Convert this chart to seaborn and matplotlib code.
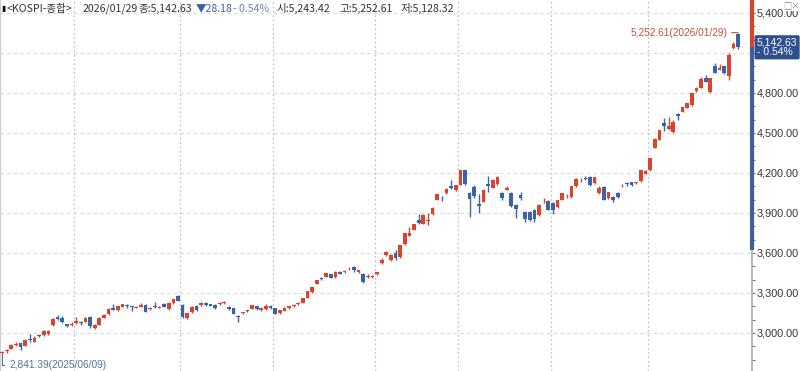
import numpy as np
import pandas as pd
import matplotlib
matplotlib.use("Agg")
import matplotlib.pyplot as plt
import matplotlib.transforms as mtransforms
from matplotlib.ticker import MultipleLocator, FuncFormatter
import seaborn as sns

# ---------------- data ----------------
trading_days = {
    "2025-06": [9, 10, 11, 12, 13, 16, 17, 18, 19, 20, 23, 24, 25, 26, 27, 30],
    "2025-07": [1, 2, 3, 4, 7, 8, 9, 10, 11, 14, 15, 16, 17, 18, 21, 22, 23, 24, 25, 28, 29, 30, 31],
    "2025-08": [1, 4, 5, 6, 7, 8, 11, 12, 13, 14, 18, 19, 20, 21, 22, 25, 26, 27, 28, 29],
    "2025-09": [1, 2, 3, 4, 5, 8, 9, 10, 11, 12, 15, 16, 17, 18, 19, 22, 23, 24, 25, 26, 29, 30],
    "2025-10": [1, 2, 10, 13, 14, 15, 16, 17, 20, 21, 22, 23, 24, 27, 28, 29, 30, 31],
    "2025-11": [3, 4, 5, 6, 7, 10, 11, 12, 13, 14, 17, 18, 19, 20, 21, 24, 25, 26, 27, 28],
    "2025-12": [1, 2, 3, 4, 5, 8, 9, 10, 11, 12, 15, 16, 17, 18, 19, 22, 23, 24, 26, 29, 30],
    "2026-01": [2, 5, 6, 7, 8, 9, 12, 13, 14, 15, 16, 19, 20, 21, 22, 23, 26, 27, 28, 29],
}

open_ = [
    2848, 2866, 2880, 2912, 2925, 2905, 2955, 2932, 2982, 2983, 2990, 3062, 3118, 3113, 3067, 3060,
    3078, 3082, 3085, 3118, 3038, 3062, 3114, 3142, 3188, 3172, 3198, 3212, 3200, 3190, 3198, 3210, 3180, 3205, 3190, 3217, 3182, 3226, 3275,
    3208, 3115, 3155, 3200, 3210, 3228, 3215, 3212, 3218, 3225, 3195, 3185, 3125, 3150, 3168, 3180, 3200, 3170, 3180, 3205,
    3185, 3150, 3168, 3185, 3205, 3218, 3228, 3265, 3310, 3370, 3410, 3420, 3440, 3420, 3460, 3455, 3485, 3495, 3455, 3445, 3420, 3420,
    3440, 3525, 3585, 3550, 3600, 3570, 3665, 3730, 3775, 3850, 3818, 3840, 3893, 3998, 4012, 4052, 4105, 4070,
    4112, 4222, 4050, 4095, 3965, 3985, 4120, 4090, 4115, 4050, 4075, 4050, 3960, 4035, 3908, 3905, 3925, 3885, 3995, 3990,
    3975, 3945, 4000, 4025, 4020, 4100, 4145, 4165, 4170, 4125, 4050, 4095, 4010, 4020, 4050, 4100, 4120, 4130, 4125, 4140, 4195,
    4222, 4390, 4450, 4575, 4530, 4505, 4640, 4660, 4690, 4710, 4815, 4838, 4915, 4810, 5000, 4975, 5000, 4925, 5140, 5243.42,
]
high = [
    2866, 2878, 2921, 2931, 2928, 2950, 2990, 2975, 2992, 3022, 3024, 3110, 3133, 3125, 3070, 3080,
    3120, 3092, 3120, 3125, 3065, 3118, 3140, 3185, 3215, 3205, 3220, 3218, 3205, 3205, 3222, 3218, 3195, 3232, 3205, 3225, 3232, 3258, 3282,
    3215, 3150, 3200, 3210, 3230, 3235, 3220, 3215, 3235, 3240, 3200, 3190, 3132, 3160, 3175, 3212, 3202, 3192, 3215, 3210,
    3188, 3175, 3192, 3205, 3215, 3230, 3262, 3315, 3345, 3396, 3420, 3450, 3445, 3462, 3465, 3470, 3498, 3500, 3475, 3448, 3440, 3435,
    3460, 3562, 3617, 3590, 3620, 3660, 3750, 3795, 3820, 3895, 3890, 3900, 3945, 4045, 4030, 4085, 4147, 4110,
    4226, 4226, 4060, 4110, 4040, 4080, 4180, 4155, 4175, 4060, 4100, 4055, 3965, 4057, 3915, 3912, 3930, 3965, 4010, 3995,
    3980, 4000, 4052, 4040, 4105, 4160, 4160, 4175, 4180, 4170, 4100, 4100, 4060, 4030, 4060, 4115, 4130, 4135, 4135, 4222, 4220,
    4315, 4460, 4525, 4610, 4620, 4597, 4650, 4695, 4725, 4800, 4845, 4920, 4935, 4912, 5025, 5020, 5005, 5100, 5185, 5252.61,
]
low = [
    2841.39, 2853, 2878, 2900, 2870, 2900, 2935, 2930, 2970, 2978, 2985, 3055, 3095, 3075, 3045, 3050,
    3070, 3060, 3080, 3040, 3030, 3058, 3110, 3138, 3170, 3168, 3195, 3190, 3165, 3185, 3195, 3155, 3170, 3188, 3185, 3192, 3175, 3220, 3238,
    3115, 3108, 3150, 3165, 3200, 3205, 3200, 3180, 3210, 3215, 3170, 3140, 3082, 3140, 3160, 3178, 3175, 3165, 3175, 3180,
    3140, 3145, 3165, 3180, 3195, 3210, 3225, 3262, 3300, 3365, 3395, 3418, 3410, 3415, 3440, 3450, 3475, 3460, 3450, 3375, 3415, 3415,
    3435, 3520, 3580, 3540, 3545, 3565, 3660, 3725, 3770, 3815, 3815, 3810, 3888, 3995, 3990, 4045, 4080, 4065,
    4108, 4110, 3867, 4015, 3900, 3980, 4060, 4085, 4110, 3995, 4070, 3945, 3862, 4000, 3835, 3840, 3830, 3880, 3975, 3920,
    3895, 3940, 3995, 4010, 4015, 4095, 4135, 4150, 4100, 4120, 4045, 3995, 4005, 3985, 4015, 4095, 4105, 4105, 4120, 4135, 4190,
    4218, 4385, 4445, 4515, 4520, 4500, 4600, 4655, 4685, 4705, 4810, 4835, 4880, 4800, 4950, 4970, 4945, 4895, 5130, 5128.32,
]
close = [
    2856, 2871, 2907, 2920, 2894, 2946, 2950, 2962, 2977, 3015, 3014, 3103, 3108, 3079, 3055, 3071,
    3089, 3076, 3116, 3054, 3059, 3115, 3133, 3183, 3175, 3202, 3215, 3200, 3192, 3198, 3210, 3160, 3184, 3195, 3198, 3198, 3225, 3254, 3242,
    3120, 3147, 3198, 3170, 3227, 3210, 3205, 3185, 3222, 3225, 3177, 3142, 3122, 3152, 3166, 3210, 3180, 3187, 3205, 3186,
    3145, 3172, 3187, 3200, 3206, 3220, 3260, 3314, 3344, 3395, 3407, 3449, 3413, 3461, 3445, 3468, 3486, 3472, 3471, 3386, 3431, 3424,
    3455, 3549, 3610, 3584, 3561, 3657, 3748, 3748, 3814, 3823, 3883, 3848, 3941, 4042, 4010, 4081, 4086, 4107,
    4221, 4121, 4004, 4026, 3953, 4073, 4106, 4150, 4170, 4011, 4089, 3953, 3929, 4012, 3853, 3846, 3857, 3960, 3997, 3926,
    3920, 3997, 4050, 4028, 4100, 4154, 4150, 4155, 4110, 4167, 4090, 3999, 4056, 3994, 4020, 4105, 4117, 4108, 4129, 4220, 4214,
    4309, 4457, 4525, 4551, 4552, 4586, 4624, 4692, 4723, 4797, 4840, 4904, 4885, 4909, 4952, 4990, 4949, 5084, 5170.81, 5142.63,
]

prev_close = 5170.81
range_low = 3620          # lower end of the blue band on the price axis
y_major = 300
y_minor = 100

RED = "#d8442c"
BLUE = "#3b62a6"
NUMFONT = ["Liberation Sans", "DejaVu Sans"]

# ---------------- frame ----------------
dates = [pd.Timestamp(f"{m}-{d:02d}") for m, days in trading_days.items() for d in days]
df = pd.DataFrame({"date": dates, "open": open_, "high": high, "low": low, "close": close})
df["pos"] = np.arange(len(df))
df["up"] = df["close"] >= df["open"]
last_close = df["close"].iloc[-1]

sns.set_style("white")
plt.rcParams["font.family"] = ["Noto Sans CJK KR", "DejaVu Sans"]

fig = plt.figure(figsize=(8, 3.71), dpi=100)
ax = fig.add_axes([0.0, 0.0, 752 / 800, 1.0])

ax.set_xlim(-0.45, 162.0)
ax.set_ylim(2715, 5497.5)

# grid
for v in np.arange(2700, 5500, y_major):
    ax.axhline(v, color="#d9d9d9", lw=0.8, ls=(0, (3, 3)), zorder=0)
month_starts = df.groupby(df["date"].dt.to_period("M"))["pos"].min().values
for p in month_starts[1:]:
    ax.axvline(p - 0.5, color="#c4c4c4", lw=0.9, ls=(0, (1.5, 2)), zorder=0)

# candles
cols = np.where(df["up"], RED, BLUE)
ax.vlines(df["pos"], df["low"], df["high"], colors=cols, lw=1.0, zorder=2)
body_lo = np.minimum(df["open"], df["close"])
body_h = np.maximum((df["close"] - df["open"]).abs(), 6)
ax.bar(df["pos"], body_h, bottom=body_lo, width=0.8, color=cols, linewidth=0, zorder=3)

# axes styling
for s in ["top", "bottom"]:
    ax.spines[s].set_visible(False)
ax.spines["left"].set_color("#cfcfcf")
ax.spines["left"].set_linewidth(1.0)
ax.spines["right"].set_color("#a9a9a9")
ax.spines["right"].set_linewidth(1.2)
ax.set_xticks([])
ax.yaxis.tick_right()
ax.yaxis.set_major_locator(MultipleLocator(y_major))
ax.yaxis.set_minor_locator(MultipleLocator(y_minor))
# the label hidden behind the last-price tag is left blank
ax.yaxis.set_major_formatter(FuncFormatter(
    lambda v, p: "" if abs(v - last_close) < 120 else f"{v:,.2f}"))
ax.tick_params(axis="y", which="major", direction="out", length=2.5, width=0.8,
               color="#777777", pad=0.8, labelsize=7.8, labelcolor="#333333")
ax.tick_params(axis="y", which="minor", direction="out", length=2.0, width=0.8, color="#777777")
for lab in ax.get_yticklabels():
    lab.set_family(NUMFONT)

# coloured band on the price axis
btrans = mtransforms.blended_transform_factory(ax.transAxes, ax.transData)
ax.plot([1, 1], [last_close, ax.get_ylim()[1]], transform=btrans, color=RED, lw=3, clip_on=False, zorder=5,
        solid_capstyle="butt")
ax.plot([1, 1], [range_low, last_close], transform=btrans, color="#3f5f99", lw=3, clip_on=False, zorder=5,
        solid_capstyle="butt")

# last price tag
chg_pct = (last_close - prev_close) / prev_close * 100
ax.annotate(f"{last_close:,.2f}\n- {abs(chg_pct):.2f}%", xy=(1, last_close), xycoords=btrans,
            xytext=(3.5, 0), textcoords="offset points", ha="left", va="center",
            fontsize=7.5, color="white", linespacing=0.95, family=NUMFONT,
            bbox=dict(boxstyle="round,pad=0.22,rounding_size=0.15", fc="#2e4f8e", ec="none"),
            annotation_clip=False, zorder=10)

# high / low annotations
hi_i = int(df["high"].idxmax())
ax.annotate(f"{df['high'].iloc[hi_i]:,.2f}({df['date'].iloc[hi_i]:%Y/%m/%d})",
            xy=(df["pos"].iloc[hi_i], df["high"].iloc[hi_i]), xytext=(-8, 0), textcoords="offset points",
            ha="right", va="center", fontsize=7.3, color="#c0533c", family=NUMFONT,
            arrowprops=dict(arrowstyle="-", color="#c0533c", lw=0.8, shrinkA=1, shrinkB=0))
lo_i = int(df["low"].idxmin())
ax.annotate(f"{df['low'].iloc[lo_i]:,.2f}({df['date'].iloc[lo_i]:%Y/%m/%d})",
            xy=(df["pos"].iloc[lo_i], df["low"].iloc[lo_i]), xytext=(5, -8), textcoords="offset points",
            ha="left", va="center", fontsize=7.3, color="#55709a", family=NUMFONT,
            arrowprops=dict(arrowstyle="-", color="#55709a", lw=0.8, shrinkA=1, shrinkB=0,
                            connectionstyle="angle,angleA=0,angleB=90,rad=0"))

# header
hy = 1 - 8.5 / 371
fig.text(1.5 / 800, hy, "▮", fontsize=5.5, color="#111111", ha="left", va="center")
hdr = [
    (7, "<KOSPI-종합>", "#333333"),
    (83, "2026/01/29", "#333333"),
    (138, f"종:{last_close:,.2f}", "#333333"),
    (196, f"▼{prev_close - last_close:.2f}", "#3b5ea8"),
    (233, f"- {abs(chg_pct):.2f}%", "#6a84b0"),
    (277, f"시:{open_[-1]:,.2f}", "#333333"),
    (339, f"고:{high[-1]:,.2f}", "#333333"),
    (401, f"저:{low[-1]:,.2f}", "#333333"),
]
for px, txt, c in hdr:
    fig.text(px / 800, hy, txt, fontsize=7.6, color=c, ha="left", va="center")

fig.text(792 / 800, 1 - 6 / 371, "□×", fontsize=6, color="#888888", ha="center", va="center",
         bbox=dict(boxstyle="square,pad=0.05", fc="white", ec="none"))

fig.savefig("out.png", dpi=100)
